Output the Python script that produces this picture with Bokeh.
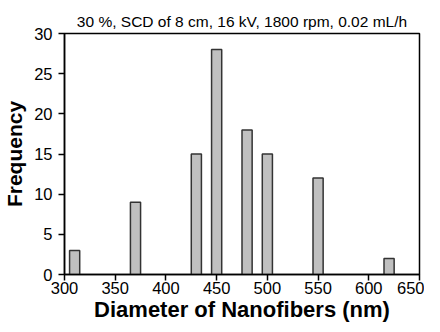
from bokeh.plotting import figure
from bokeh.models import FixedTicker, Range1d
from bokeh.embed import file_html
from bokeh.resources import INLINE

# Data
diameters = [310, 370, 430, 450, 480, 500, 550, 620]
frequency = [3, 9, 15, 28, 18, 15, 12, 2]
x_ticks = [300, 350, 400, 450, 500, 550, 600, 650]
y_ticks = [0, 5, 10, 15, 20, 25, 30]
title_text = "30 %, SCD of 8 cm, 16 kV, 1800 rpm, 0.02 mL/h"

FONT = "Liberation Sans"

p = figure(width=424, height=324, output_backend="svg", toolbar_location=None,
           x_range=Range1d(300, 650), y_range=Range1d(0, 30),
           min_border_left=59, min_border_right=5, min_border_top=33, min_border_bottom=50)

p.vbar(x=diameters, top=frequency, width=10, fill_color="#c0c0c0",
       line_color="#333333", line_width=1.5)

p.title.text = title_text
p.title.align = "center"
p.title.text_font = FONT
p.title.text_font_style = "normal"
p.title.text_font_size = "15.5px"
p.title.text_color = "black"
p.title.standoff = 7

p.xgrid.visible = False
p.ygrid.visible = False
p.outline_line_color = "black"
p.outline_line_width = 1.5
p.outline_line_alpha = 1

for ax in (p.xaxis[0], p.yaxis[0]):
    ax.axis_line_color = "black"
    ax.axis_line_width = 1.5
    ax.major_tick_line_color = "black"
    ax.major_tick_line_width = 1.5
    ax.major_tick_in = 0
    ax.major_tick_out = 6
    ax.minor_tick_line_color = None
    ax.major_label_text_font = FONT
    ax.major_label_text_font_size = "16.5px"
    ax.major_label_text_color = "black"
    ax.axis_label_text_font = FONT
    ax.axis_label_text_font_style = "bold"
    ax.axis_label_text_color = "black"

p.xaxis.axis_label_text_font_size = "22px"
p.yaxis.axis_label_text_font_size = "21px"
p.xaxis.ticker = FixedTicker(ticks=x_ticks)
p.yaxis.ticker = FixedTicker(ticks=y_ticks)
p.xaxis.axis_label = "Diameter of Nanofibers (nm)"
p.yaxis.axis_label = "Frequency"
p.xaxis.major_label_standoff = 1
p.xaxis.axis_label_standoff = 0
p.yaxis.major_label_standoff = 6
p.yaxis.axis_label_standoff = 5

open("out.html", "w").write(file_html(p, INLINE))
